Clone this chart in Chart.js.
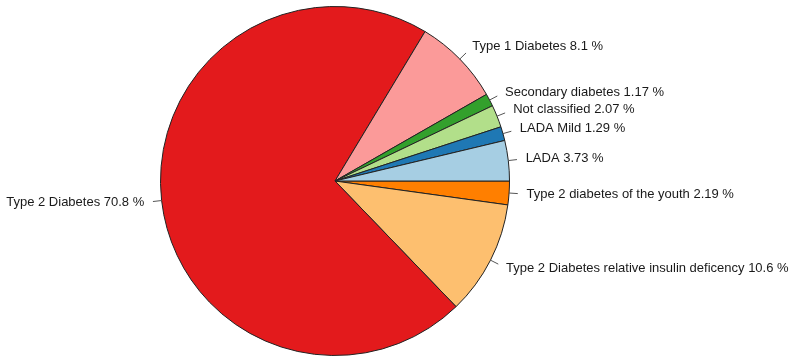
<!DOCTYPE html>
<html>
<head>
<meta charset="utf-8">
<script src="https://cdn.jsdelivr.net/npm/chart.js@4/dist/chart.umd.min.js"></script>
<style>
  html, body { margin: 0; padding: 0; background: #fff; }
  #wrap { width: 801px; height: 364px; position: relative; }
</style>
</head>
<body>
<div id="wrap"><canvas id="pieChart" width="801" height="364"></canvas></div>
<script>
// slices in the order they were drawn (counter-clockwise from 3 o'clock)
const categories = [
    'LADA',
    'LADA Mild',
    'Not classified',
    'Secondary diabetes',
    'Type 1 Diabetes',
    'Type 2 Diabetes',
    'Type 2 Diabetes relative insulin deficency',
    'Type 2 diabetes of the youth'
];
const percents = [3.73, 1.29, 2.07, 1.17, 8.1, 70.8, 10.6, 2.19];
const sliceColors = ['#a6cee3', '#1f78b4', '#b2df8a', '#33a02c', '#fb9a99', '#e31a1c', '#fdbf6f', '#ff7f00'];

// Chart.js goes clockwise, so flip the order to get the same layout
const cwLabels = categories.slice().reverse();
const cwValues = percents.slice().reverse();
const cwColors = sliceColors.slice().reverse();

// labels outside the pie with short leader lines
const outsideLabels = {
    id: 'outsideLabels',
    afterDatasetsDraw(chart) {
        const ctx = chart.ctx;
        const meta = chart.getDatasetMeta(0);
        ctx.save();
        ctx.font = '13px "Liberation Sans", Arial, sans-serif';
        ctx.textBaseline = 'middle';
        meta.data.forEach((arc, i) => {
            const p = arc.getProps(['x', 'y', 'startAngle', 'endAngle', 'outerRadius'], true);
            const a = (p.startAngle + p.endAngle) / 2;
            const c = Math.cos(a), s = Math.sin(a);
            const r = p.outerRadius;
            ctx.strokeStyle = '#555';
            ctx.lineWidth = 1;
            ctx.beginPath();
            ctx.moveTo(p.x + r * c, p.y + r * s);
            ctx.lineTo(p.x + r * 1.05 * c, p.y + r * 1.05 * s);
            ctx.stroke();
            ctx.fillStyle = '#1a1a1a';
            ctx.textAlign = c >= 0 ? 'left' : 'right';
            ctx.fillText(cwLabels[i] + ' ' + cwValues[i] + ' %', p.x + r * 1.1 * c, p.y + r * 1.1 * s);
        });
        ctx.restore();
    }
};

new Chart(document.getElementById('pieChart'), {
    type: 'pie',
    data: {
        labels: cwLabels,
        datasets: [{
            data: cwValues,
            backgroundColor: cwColors,
            borderColor: '#222',
            borderWidth: 1,
            hoverOffset: 0
        }]
    },
    options: {
        responsive: false,
        animation: false,
        rotation: 90,
        radius: 174.5,
        layout: { padding: { left: 0, right: 131, top: 0, bottom: 2 } },
        plugins: {
            legend: { display: false },
            tooltip: { enabled: false }
        }
    },
    plugins: [outsideLabels]
});
</script>
</body>
</html>
